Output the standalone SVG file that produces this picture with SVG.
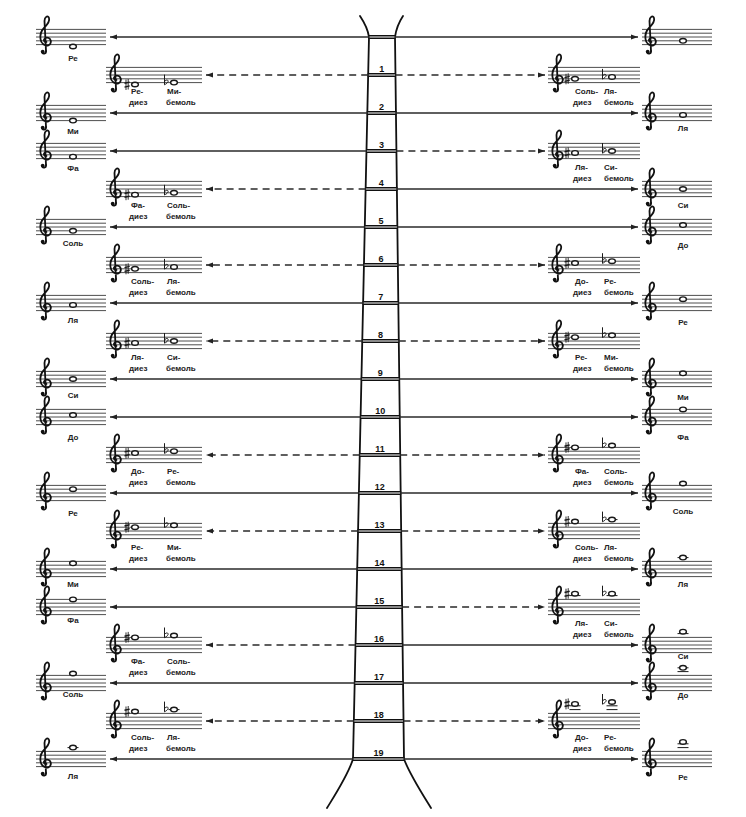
<svg xmlns="http://www.w3.org/2000/svg" xmlns:xlink="http://www.w3.org/1999/xlink" width="746" height="817" viewBox="0 0 746 817">
<style>
.lb{font-family:"Liberation Sans",Arial,sans-serif;font-size:8px;font-weight:bold;fill:#222;text-anchor:middle}
.al{font-family:"Liberation Sans",Arial,sans-serif;font-size:8px;font-weight:bold;fill:#222}
.num{font-family:"Liberation Sans",Arial,sans-serif;font-size:9px;font-weight:bold;fill:#111;text-anchor:middle}
.ln{stroke:#2a2a2a;stroke-width:1.3;fill:none;marker-end:url(#ah)}
.ds{stroke-dasharray:7 5}
.rail{stroke:#111;stroke-width:1.8;fill:none;stroke-linecap:round}
.rung{fill:#8a8a8a;stroke:#111;stroke-width:1}
</style>
<defs>
<marker id="ah" markerUnits="userSpaceOnUse" markerWidth="8" markerHeight="6" refX="7" refY="3" orient="auto"><path d="M0,0.5L7,3L0,5.5z" fill="#222"/></marker>
<path id="s70" fill="none" stroke="#3a3a3a" stroke-width="0.9" d="M0,-7.6h70M0,-3.8h70M0,0h70M0,3.8h70M0,7.6h70"/>
<path id="s96" fill="none" stroke="#3a3a3a" stroke-width="0.9" d="M0,-7.6h96M0,-3.8h96M0,0h96M0,3.8h96M0,7.6h96"/>
<path id="s92" fill="none" stroke="#3a3a3a" stroke-width="0.9" d="M0,-7.6h92M0,-3.8h92M0,0h92M0,3.8h92M0,7.6h92"/>
<g id="clef" fill="none" stroke="#111" stroke-width="1.8" stroke-linecap="round">
<path d="M1,14 L-0.5,-16 C-0.5,-20.5 3,-22 4,-19 C5,-16 2,-12 -1,-9 C-4,-6 -5,-2 -4.5,2 C-4,7 0,9 3,8.5 C6,8 6.5,4 5,2 C3.5,0 0,0 -1,2.5 C-1.5,4.5 0.5,5.5 1.5,5"/>
<path d="M1,14 C1.3,17 -2.5,17.5 -3,15"/>
<circle cx="-2.3" cy="14.6" r="1.9" fill="#111" stroke="none"/>
</g>
<g id="sh" stroke="#1a1a1a" fill="none"><path stroke-width="0.9" d="M-1,-5V5.5M1.2,-5.5V5"/><path stroke-width="1.4" d="M-2.5,-1.2L2.7,-2.4M-2.5,2.6L2.7,1.4"/></g>
<path id="fl" fill="none" stroke="#1a1a1a" stroke-width="1" d="M-1.5,-8V2.2C1,1 3.2,-1.2 1.6,-2.4C0.6,-3 -0.8,-2 -1.5,-1"/>
<ellipse id="n" rx="3.4" ry="2.3" fill="#fff" stroke="#1a1a1a" stroke-width="1.4"/>
<path id="lg" d="M-5.5,0h11" stroke="#1a1a1a" stroke-width="1"/>
</defs>
<rect width="746" height="817" fill="#fff"/>

<g id="ladder">
<path class="rail" d="M360,16C364,22 368,30 369,37L353,759C348,775 335,795 327,808"/>
<path class="rail" d="M403,16C399,22 396,30 395,37L404,759C410,775 423,795 431,808"/>
<rect class="rung" x="369" y="35.5" width="26" height="3"/>
<rect class="rung" x="368.2" y="73.5" width="27.3" height="3"/>
<rect class="rung" x="367.3" y="111.5" width="28.6" height="3"/>
<rect class="rung" x="366.5" y="149.5" width="29.9" height="3"/>
<rect class="rung" x="365.6" y="187.5" width="31.3" height="3"/>
<rect class="rung" x="364.8" y="225.5" width="32.6" height="3"/>
<rect class="rung" x="363.9" y="263.5" width="33.9" height="3"/>
<rect class="rung" x="363.1" y="301.5" width="35.2" height="3"/>
<rect class="rung" x="362.3" y="339.5" width="36.5" height="3"/>
<rect class="rung" x="361.4" y="377.5" width="37.9" height="3"/>
<rect class="rung" x="360.6" y="415.5" width="39.1" height="3"/>
<rect class="rung" x="359.7" y="453.5" width="40.5" height="3"/>
<rect class="rung" x="358.9" y="491.5" width="41.8" height="3"/>
<rect class="rung" x="358.1" y="529.5" width="43.1" height="3"/>
<rect class="rung" x="357.2" y="567.5" width="44.4" height="3"/>
<rect class="rung" x="356.4" y="605.5" width="45.7" height="3"/>
<rect class="rung" x="355.5" y="643.5" width="47.1" height="3"/>
<rect class="rung" x="354.7" y="681.5" width="48.4" height="3"/>
<rect class="rung" x="353.8" y="719.5" width="49.7" height="3"/>
<rect class="rung" x="353" y="757.5" width="51" height="3"/>
<text class="num" x="381.8" y="72">1</text>
<text class="num" x="381.6" y="110">2</text>
<text class="num" x="381.4" y="148">3</text>
<text class="num" x="381.3" y="186">4</text>
<text class="num" x="381.1" y="224">5</text>
<text class="num" x="380.9" y="262">6</text>
<text class="num" x="380.7" y="300">7</text>
<text class="num" x="380.5" y="338">8</text>
<text class="num" x="380.3" y="376">9</text>
<text class="num" x="380.2" y="414">10</text>
<text class="num" x="380" y="452">11</text>
<text class="num" x="379.8" y="490">12</text>
<text class="num" x="379.6" y="528">13</text>
<text class="num" x="379.4" y="566">14</text>
<text class="num" x="379.2" y="604">15</text>
<text class="num" x="379.1" y="642">16</text>
<text class="num" x="378.9" y="680">17</text>
<text class="num" x="378.7" y="718">18</text>
<text class="num" x="378.5" y="756">19</text>
</g>

<g id="connectors">
<path class="ln" d="M369,37H110"/>
<path class="ln ds" d="M368.2,75H206"/>
<path class="ln" d="M367.3,113H110"/>
<path class="ln" d="M366.5,151H110"/>
<path class="ln ds" d="M365.6,189H206"/>
<path class="ln" d="M364.8,227H110"/>
<path class="ln ds" d="M363.9,265H206"/>
<path class="ln" d="M363.1,303H110"/>
<path class="ln ds" d="M362.3,341H206"/>
<path class="ln" d="M361.4,379H110"/>
<path class="ln" d="M360.6,417H110"/>
<path class="ln ds" d="M359.7,455H206"/>
<path class="ln" d="M358.9,493H110"/>
<path class="ln ds" d="M358.1,531H206"/>
<path class="ln" d="M357.2,569H110"/>
<path class="ln" d="M356.4,607H110"/>
<path class="ln ds" d="M355.5,645H206"/>
<path class="ln" d="M354.7,683H110"/>
<path class="ln ds" d="M353.8,721H206"/>
<path class="ln" d="M353,759H110"/>
<path class="ln" d="M395,37H638"/>
<path class="ln ds" d="M395.5,75H545"/>
<path class="ln" d="M395.9,113H638"/>
<path class="ln ds" d="M396.4,151H545"/>
<path class="ln" d="M396.9,189H638"/>
<path class="ln" d="M397.4,227H638"/>
<path class="ln ds" d="M397.8,265H545"/>
<path class="ln" d="M398.3,303H638"/>
<path class="ln ds" d="M398.8,341H545"/>
<path class="ln" d="M399.3,379H638"/>
<path class="ln" d="M399.7,417H638"/>
<path class="ln ds" d="M400.2,455H545"/>
<path class="ln" d="M400.7,493H638"/>
<path class="ln ds" d="M401.2,531H545"/>
<path class="ln" d="M401.6,569H638"/>
<path class="ln ds" d="M402.1,607H545"/>
<path class="ln" d="M402.6,645H638"/>
<path class="ln" d="M403.1,683H638"/>
<path class="ln ds" d="M403.5,721H545"/>
<path class="ln" d="M404,759H638"/>
</g>

<!-- left natural -->
<g id="L0"><use href="#s70" x="36" y="37"/><use href="#clef" x="45" y="37"/><use href="#n" x="73" y="46.5"/><text class="lb" x="73" y="61">Ре</text></g>
<g id="L2"><use href="#s70" x="36" y="113"/><use href="#clef" x="45" y="113"/><use href="#n" x="73" y="120.6"/><text class="lb" x="73" y="134">Ми</text></g>
<g id="L3"><use href="#s70" x="36" y="151"/><use href="#clef" x="45" y="151"/><use href="#n" x="73" y="156.7"/><text class="lb" x="73" y="171">Фа</text></g>
<g id="L5"><use href="#s70" x="36" y="227"/><use href="#clef" x="45" y="227"/><use href="#n" x="73" y="230.8"/><text class="lb" x="73" y="246">Соль</text></g>
<g id="L7"><use href="#s70" x="36" y="303"/><use href="#clef" x="45" y="303"/><use href="#n" x="73" y="304.9"/><text class="lb" x="73" y="323">Ля</text></g>
<g id="L9"><use href="#s70" x="36" y="379"/><use href="#clef" x="45" y="379"/><use href="#n" x="73" y="379"/><text class="lb" x="73" y="398">Си</text></g>
<g id="L10"><use href="#s70" x="36" y="417"/><use href="#clef" x="45" y="417"/><use href="#n" x="73" y="415.1"/><text class="lb" x="73" y="440">До</text></g>
<g id="L12"><use href="#s70" x="36" y="493"/><use href="#clef" x="45" y="493"/><use href="#n" x="73" y="489.2"/><text class="lb" x="73" y="516">Ре</text></g>
<g id="L14"><use href="#s70" x="36" y="569"/><use href="#clef" x="45" y="569"/><use href="#n" x="73" y="563.3"/><text class="lb" x="73" y="587">Ми</text></g>
<g id="L15"><use href="#s70" x="36" y="607"/><use href="#clef" x="45" y="607"/><use href="#n" x="73" y="599.4"/><text class="lb" x="73" y="623">Фа</text></g>
<g id="L17"><use href="#s70" x="36" y="683"/><use href="#clef" x="45" y="683"/><use href="#n" x="73" y="673.5"/><text class="lb" x="73" y="697">Соль</text></g>
<g id="L19"><use href="#s70" x="36" y="759"/><use href="#clef" x="45" y="759"/><use href="#lg" x="73" y="747.6"/><use href="#n" x="73" y="747.6"/><text class="lb" x="73" y="779">Ля</text></g>

<!-- left accidental -->
<g id="L1"><use href="#s96" x="106" y="75"/><use href="#clef" x="115" y="75"/><use href="#sh" x="127" y="84.5"/><use href="#n" x="135" y="84.5"/><use href="#fl" x="166" y="82.6"/><use href="#n" x="174" y="82.6"/><text class="al" x="131" y="94">Ре-</text><text class="al" x="167" y="94">Ми-</text><text class="al" x="129" y="105">диез</text><text class="al" x="166" y="105">бемоль</text></g>
<g id="L4"><use href="#s96" x="106" y="189"/><use href="#clef" x="115" y="189"/><use href="#sh" x="127" y="194.7"/><use href="#n" x="135" y="194.7"/><use href="#fl" x="166" y="192.8"/><use href="#n" x="174" y="192.8"/><text class="al" x="131" y="208">Фа-</text><text class="al" x="167" y="208">Соль-</text><text class="al" x="129" y="219">диез</text><text class="al" x="166" y="219">бемоль</text></g>
<g id="L6"><use href="#s96" x="106" y="265"/><use href="#clef" x="115" y="265"/><use href="#sh" x="127" y="268.8"/><use href="#n" x="135" y="268.8"/><use href="#fl" x="166" y="266.9"/><use href="#n" x="174" y="266.9"/><text class="al" x="131" y="284">Соль-</text><text class="al" x="167" y="284">Ля-</text><text class="al" x="129" y="295">диез</text><text class="al" x="166" y="295">бемоль</text></g>
<g id="L8"><use href="#s96" x="106" y="341"/><use href="#clef" x="115" y="341"/><use href="#sh" x="127" y="342.9"/><use href="#n" x="135" y="342.9"/><use href="#fl" x="166" y="341"/><use href="#n" x="174" y="341"/><text class="al" x="131" y="360">Ля-</text><text class="al" x="167" y="360">Си-</text><text class="al" x="129" y="371">диез</text><text class="al" x="166" y="371">бемоль</text></g>
<g id="L11"><use href="#s96" x="106" y="455"/><use href="#clef" x="115" y="455"/><use href="#sh" x="127" y="453.1"/><use href="#n" x="135" y="453.1"/><use href="#fl" x="166" y="451.2"/><use href="#n" x="174" y="451.2"/><text class="al" x="131" y="474">До-</text><text class="al" x="167" y="474">Ре-</text><text class="al" x="129" y="485">диез</text><text class="al" x="166" y="485">бемоль</text></g>
<g id="L13"><use href="#s96" x="106" y="531"/><use href="#clef" x="115" y="531"/><use href="#sh" x="127" y="527.2"/><use href="#n" x="135" y="527.2"/><use href="#fl" x="166" y="525.3"/><use href="#n" x="174" y="525.3"/><text class="al" x="131" y="550">Ре-</text><text class="al" x="167" y="550">Ми-</text><text class="al" x="129" y="561">диез</text><text class="al" x="166" y="561">бемоль</text></g>
<g id="L16"><use href="#s96" x="106" y="645"/><use href="#clef" x="115" y="645"/><use href="#sh" x="127" y="637.4"/><use href="#n" x="135" y="637.4"/><use href="#fl" x="166" y="635.5"/><use href="#n" x="174" y="635.5"/><text class="al" x="131" y="664">Фа-</text><text class="al" x="167" y="664">Соль-</text><text class="al" x="129" y="675">диез</text><text class="al" x="166" y="675">бемоль</text></g>
<g id="L18"><use href="#s96" x="106" y="721"/><use href="#clef" x="115" y="721"/><use href="#sh" x="127" y="711.5"/><use href="#n" x="135" y="711.5"/><use href="#lg" x="174" y="709.6"/><use href="#fl" x="166" y="709.6"/><use href="#n" x="174" y="709.6"/><text class="al" x="131" y="740">Соль-</text><text class="al" x="167" y="740">Ля-</text><text class="al" x="129" y="751">диез</text><text class="al" x="166" y="751">бемоль</text></g>

<!-- right accidental -->
<g id="R1"><use href="#s92" x="548" y="75"/><use href="#clef" x="557" y="75"/><use href="#sh" x="567" y="78.8"/><use href="#n" x="575" y="78.8"/><use href="#fl" x="604" y="76.9"/><use href="#n" x="612" y="76.9"/><text class="al" x="575" y="94">Соль-</text><text class="al" x="604" y="94">Ля-</text><text class="al" x="573" y="105">диез</text><text class="al" x="604" y="105">бемоль</text></g>
<g id="R3"><use href="#s92" x="548" y="151"/><use href="#clef" x="557" y="151"/><use href="#sh" x="567" y="152.9"/><use href="#n" x="575" y="152.9"/><use href="#fl" x="604" y="151"/><use href="#n" x="612" y="151"/><text class="al" x="575" y="170">Ля-</text><text class="al" x="604" y="170">Си-</text><text class="al" x="573" y="181">диез</text><text class="al" x="604" y="181">бемоль</text></g>
<g id="R6"><use href="#s92" x="548" y="265"/><use href="#clef" x="557" y="265"/><use href="#sh" x="567" y="263.1"/><use href="#n" x="575" y="263.1"/><use href="#fl" x="604" y="261.2"/><use href="#n" x="612" y="261.2"/><text class="al" x="575" y="284">До-</text><text class="al" x="604" y="284">Ре-</text><text class="al" x="573" y="295">диез</text><text class="al" x="604" y="295">бемоль</text></g>
<g id="R8"><use href="#s92" x="548" y="341"/><use href="#clef" x="557" y="341"/><use href="#sh" x="567" y="337.2"/><use href="#n" x="575" y="337.2"/><use href="#fl" x="604" y="335.3"/><use href="#n" x="612" y="335.3"/><text class="al" x="575" y="360">Ре-</text><text class="al" x="604" y="360">Ми-</text><text class="al" x="573" y="371">диез</text><text class="al" x="604" y="371">бемоль</text></g>
<g id="R11"><use href="#s92" x="548" y="455"/><use href="#clef" x="557" y="455"/><use href="#sh" x="567" y="447.4"/><use href="#n" x="575" y="447.4"/><use href="#fl" x="604" y="445.5"/><use href="#n" x="612" y="445.5"/><text class="al" x="575" y="474">Фа-</text><text class="al" x="604" y="474">Соль-</text><text class="al" x="573" y="485">диез</text><text class="al" x="604" y="485">бемоль</text></g>
<g id="R13"><use href="#s92" x="548" y="531"/><use href="#clef" x="557" y="531"/><use href="#sh" x="567" y="521.5"/><use href="#n" x="575" y="521.5"/><use href="#lg" x="612" y="519.6"/><use href="#fl" x="604" y="519.6"/><use href="#n" x="612" y="519.6"/><text class="al" x="575" y="550">Соль-</text><text class="al" x="604" y="550">Ля-</text><text class="al" x="573" y="561">диез</text><text class="al" x="604" y="561">бемоль</text></g>
<g id="R15"><use href="#s92" x="548" y="607"/><use href="#clef" x="557" y="607"/><use href="#lg" x="575" y="595.6"/><use href="#sh" x="567" y="593.7"/><use href="#n" x="575" y="593.7"/><use href="#lg" x="612" y="595.6"/><use href="#fl" x="604" y="593.7"/><use href="#n" x="612" y="593.7"/><text class="al" x="575" y="626">Ля-</text><text class="al" x="604" y="626">Си-</text><text class="al" x="573" y="637">диез</text><text class="al" x="604" y="637">бемоль</text></g>
<g id="R18"><use href="#s92" x="548" y="721"/><use href="#clef" x="557" y="721"/><use href="#lg" x="575" y="709.6"/><use href="#lg" x="575" y="705.8"/><use href="#sh" x="567" y="703.9"/><use href="#n" x="575" y="703.9"/><use href="#lg" x="612" y="709.6"/><use href="#lg" x="612" y="705.8"/><use href="#fl" x="604" y="702"/><use href="#n" x="612" y="702"/><text class="al" x="575" y="740">До-</text><text class="al" x="604" y="740">Ре-</text><text class="al" x="573" y="751">диез</text><text class="al" x="604" y="751">бемоль</text></g>

<!-- right natural -->
<g id="R0"><use href="#s70" x="642" y="37"/><use href="#clef" x="650" y="37"/><use href="#n" x="683" y="40.8"/></g>
<g id="R2"><use href="#s70" x="642" y="113"/><use href="#clef" x="650" y="113"/><use href="#n" x="683" y="114.9"/><text class="lb" x="683" y="131">Ля</text></g>
<g id="R4"><use href="#s70" x="642" y="189"/><use href="#clef" x="650" y="189"/><use href="#n" x="683" y="189"/><text class="lb" x="683" y="208">Си</text></g>
<g id="R5"><use href="#s70" x="642" y="227"/><use href="#clef" x="650" y="227"/><use href="#n" x="683" y="225.1"/><text class="lb" x="683" y="248">До</text></g>
<g id="R7"><use href="#s70" x="642" y="303"/><use href="#clef" x="650" y="303"/><use href="#n" x="683" y="299.2"/><text class="lb" x="683" y="325">Ре</text></g>
<g id="R9"><use href="#s70" x="642" y="379"/><use href="#clef" x="650" y="379"/><use href="#n" x="683" y="373.3"/><text class="lb" x="683" y="400">Ми</text></g>
<g id="R10"><use href="#s70" x="642" y="417"/><use href="#clef" x="650" y="417"/><use href="#n" x="683" y="409.4"/><text class="lb" x="683" y="440">Фа</text></g>
<g id="R12"><use href="#s70" x="642" y="493"/><use href="#clef" x="650" y="493"/><use href="#n" x="683" y="483.5"/><text class="lb" x="683" y="514">Соль</text></g>
<g id="R14"><use href="#s70" x="642" y="569"/><use href="#clef" x="650" y="569"/><use href="#lg" x="683" y="557.6"/><use href="#n" x="683" y="557.6"/><text class="lb" x="683" y="587">Ля</text></g>
<g id="R16"><use href="#s70" x="642" y="645"/><use href="#clef" x="650" y="645"/><use href="#lg" x="683" y="633.6"/><use href="#n" x="683" y="631.7"/><text class="lb" x="683" y="659">Си</text></g>
<g id="R17"><use href="#s70" x="642" y="683"/><use href="#clef" x="650" y="683"/><use href="#lg" x="683" y="671.6"/><use href="#lg" x="683" y="667.8"/><use href="#n" x="683" y="667.8"/><text class="lb" x="683" y="698">До</text></g>
<g id="R19"><use href="#s70" x="642" y="759"/><use href="#clef" x="650" y="759"/><use href="#lg" x="683" y="747.6"/><use href="#lg" x="683" y="743.8"/><use href="#n" x="683" y="741.9"/><text class="lb" x="683" y="780">Ре</text></g>
</svg>
